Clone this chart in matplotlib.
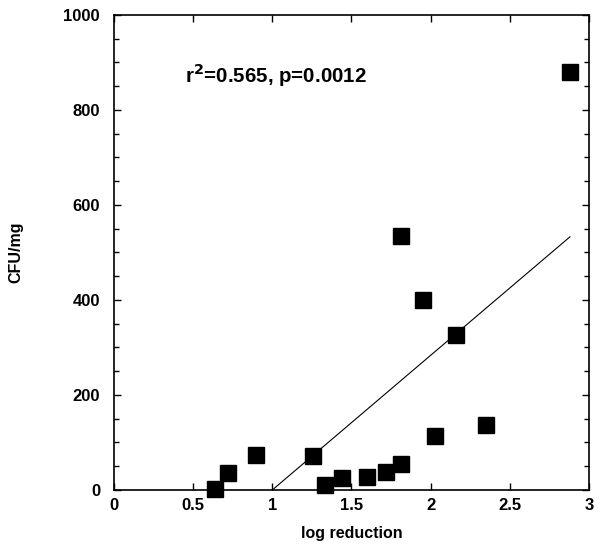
import numpy as np
import matplotlib.pyplot as plt
from matplotlib.ticker import MultipleLocator

plt.rcParams['font.family'] = ['Liberation Sans', 'DejaVu Sans']

# data
log_reduction = [0.64, 0.72, 0.90, 1.26, 1.33, 1.44, 1.60, 1.72, 1.81,
                 1.81, 1.95, 2.03, 2.16, 2.35, 2.88]
cfu_mg = [2, 36, 74, 72, 10, 25, 27, 38, 55,
          535, 400, 114, 326, 137, 880]

# regression line end points
fit_x = [1.0, 2.88]
fit_y = [0, 533]

fig = plt.figure(figsize=(6.05, 5.49), dpi=100)
ax = fig.add_axes([0.1884, 0.1075, 0.7851, 0.8652])

ax.plot(log_reduction, cfu_mg, 's', color='black', markersize=11, zorder=3,
        clip_on=False)
ax.plot(fit_x, fit_y, '-', color='black', linewidth=0.8)

ax.set_xlim(0, 3)
ax.set_ylim(0, 1000)
ax.yaxis.set_major_locator(MultipleLocator(200))
ax.yaxis.set_minor_locator(MultipleLocator(50))
ax.set_xticks([0, 0.5, 1, 1.5, 2, 2.5, 3])
ax.set_xticklabels(['0', '0.5', '1', '1.5', '2', '2.5', '3'])

ax.tick_params(axis='both', which='major', direction='in', length=5, width=1,
               labelsize=12, top=True, right=True)
ax.tick_params(axis='y', which='major', pad=10)
ax.tick_params(axis='x', which='major', pad=6)
ax.tick_params(axis='y', which='minor', direction='in', length=3.3, width=1,
               right=True)
for lab in ax.get_xticklabels() + ax.get_yticklabels():
    lab.set_fontweight('semibold')
for s in ax.spines.values():
    s.set_linewidth(1.2)

ax.set_xlabel('log reduction', fontsize=11.5, fontweight='bold', labelpad=9)
ax.set_ylabel('CFU/mg', fontsize=11.5, fontweight='bold')
ax.yaxis.set_label_coords(-0.19, 0.5)

ax.text(0.15, 0.874, r'r$^\mathbf{2}$=0.565, p=0.0012', transform=ax.transAxes,
        fontsize=14.8, fontweight='bold', ha='left', va='center')

fig.savefig('out.png', dpi=100)
